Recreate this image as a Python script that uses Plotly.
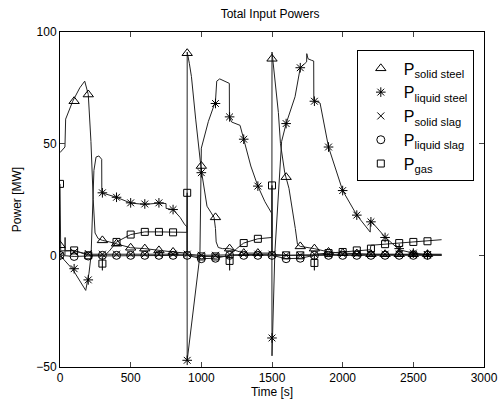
import plotly.graph_objects as go

# ---------------- data ----------------
T_MARK = list(range(0, 2700, 100))

# solid steel (triangles)
ss_t = [0, 35, 40, 90, 140, 175, 200, 219, 235, 248, 270, 300, 350, 400, 500, 600, 700, 800, 899,
        900, 915, 930, 960, 985, 1000, 1040, 1090, 1100, 1105, 1120, 1150, 1200, 1300, 1400, 1499,
        1500, 1520, 1545, 1560, 1590, 1620, 1650, 1665, 1680, 1700, 1800, 1900, 2000, 2200, 2400, 2600, 2700]
ss_y = [46, 48.5, 61, 69, 75, 78, 72, 51, 25, 10, 7.5, 6.7, 6, 5.2, 3.4, 3, 2.2, 1.5, 1,
        91, 86, 80, 61, 46, 38, 22, 17, 12, 6, 3.5, 3, 3, 1, 1, 1,
        91, 80, 64, 50, 37, 30, 19, 12, 5, 4, 3, 1.5, 1, 0.5, 0.5, 0.5, 0.5]
ss_m = [4.5, 69, 72, 6.7, 5.2, 3.4, 3, 2.2, 1.5, 90.5, 40, 17, 3, 1, 1, 88, 35, 4, 3, 1.5,
        1, 0.8, 0.5, 0.5, 0.5, 0.5, 0.5]

# liquid steel (asterisks)
ls_t = [0, 90, 182, 205, 220, 232, 240, 255, 275, 295, 296, 400, 500, 600, 700, 750, 751, 800, 850, 880, 899,
        900, 990, 1000, 1050, 1100, 1109, 1130, 1168, 1198, 1199, 1214, 1274, 1300, 1350, 1400, 1450, 1499,
        1500, 1520, 1568, 1600, 1663, 1700, 1745, 1746, 1755, 1781, 1795, 1796, 1840, 1900, 2000, 2100,
        2195, 2196, 2300, 2400, 2500, 2600, 2700]
ls_y = [0, -6.3, -15.7, -8, 0, 20, 38, 44, 44.5, 43, 28, 26, 23.4, 22.8, 23.4, 23.2, 21, 20.5, 17, 14, 12.7,
        -47, 0, 48, 60, 69, 78, 79, 78, 77, 62, 59.7, 58.2, 52, 40, 31, 24, 18.7,
        -45, 1, 51, 59, 71, 84, 86.6, 90.3, 88, 87.3, 87, 69.4, 68.2, 48.5, 29, 18,
        10.4, 15.7, 8.2, 2.5, 1, 0.3, 0]
ls_m = [0, -6, -11, 28, 26, 23.5, 23, 23.5, 20.5, -47, 37, 68, 62, 52, 31, -37, 59, 84, 69, 48.5,
        29, 18, 15, 8, 3, 1, 0.3]

# solid slag (x)
sx_t = [0, 35, 36, 37, 100, 200, 900, 1000, 1500, 1600, 2000, 2700]
sx_y = [0, 0, 8, 2, 2, 0.5, 0.5, 0, 0.5, 0, 0.5, 0.3]
sx_m = [0, 1.5, 0.8, 0.5, 0.5, 0.5, 0.5, 0.5, 0.5, 0.5, 0, 0, 0.5, 0.5, 0.5, 0.5, 0, 0, 0.5,
        0.5, 0.5, 0.5, 0.5, 0.5, 0.5, 0.3, 0.3]

# liquid slag (circles)
lq_t = [0, 100, 200, 900, 1000, 1100, 1200, 1500, 1600, 1700, 1800, 2700]
lq_y = [0, -0.5, -0.3, 0, -1.5, -1.3, 0, 0, -1.5, -1.3, 0, 0]
lq_m = [0, -0.5, -0.3, 0, 0, 0, 0, 0, 0, 0, -1.5, -1.3, 0, 0, 0, 0, -1.5, -1.3, 0, 0,
        0, 0, 0, 0, 0, 0, 0]

# gas (squares)
gs_t = [0, 5, 100, 200, 299, 300, 301, 350, 400, 500, 600, 700, 800, 899, 900, 901, 1000, 1100, 1199,
        1200, 1201, 1250, 1300, 1400, 1499, 1500, 1501, 1600, 1700, 1799, 1800, 1801, 1900, 2000, 2100,
        2195, 2200, 2300, 2400, 2500, 2600, 2700]
gs_y = [32, 2, 2.2, 0, 0, -6.7, -1, 2, 6, 9.3, 10.5, 10.5, 10.3, 10.3, 28, 0, -0.5, -0.5, -0.5,
        -6.7, 0, 3, 5.5, 7.4, 8, 31.3, 0, 0, 0, 0, -6.7, 0.5, 1, 1.5, 2.2,
        2.5, 4.5, 5, 5.5, 6, 6.3, 7]
gs_m = [32, 2.2, 0, -3.7, 6, 9.3, 10.5, 10.5, 10.3, 28, -0.5, -0.5, -2.5, 5.5, 7.4, 31.3, 0, 0,
        -3.4, 1, 1.5, 2.2, 3, 5, 5.5, 6, 6.3]

names = ["P<sub>solid steel</sub>", "P<sub>liquid steel</sub>", "P<sub>solid slag</sub>",
         "P<sub>liquid slag</sub>", "P<sub>gas</sub>"]
symbols = ["triangle-up-open", "asterisk-open", "x-thin-open", "circle-open", "square-open"]
sizes = [9, 8, 7, 8, 7]

X_TICKS = [0, 500, 1000, 1500, 2000, 2500, 3000]
Y_TICKS = [-50, 0, 50, 100]

# ---------------- figure ----------------
fig = go.Figure()
lines = [(ss_t, ss_y), (ls_t, ls_y), (sx_t, sx_y), (lq_t, lq_y), (gs_t, gs_y)]
marks = [ss_m, ls_m, sx_m, lq_m, gs_m]

for (t, y) in lines:
    fig.add_trace(go.Scatter(x=t, y=y, mode="lines", line=dict(color="#222222", width=1),
                             showlegend=False, hoverinfo="skip"))
for i, (m, name, sym, sz) in enumerate(zip(marks, names, symbols, sizes)):
    fig.add_trace(go.Scatter(x=T_MARK, y=m, mode="markers", name=name,
                             marker=dict(symbol=sym, size=sz, color="black",
                                         line=dict(color="black", width=1))))

font = "Liberation Sans, Arial, sans-serif"
fig.update_layout(
    width=501, height=401,
    margin=dict(l=60, r=17, t=32, b=34, autoexpand=False),
    paper_bgcolor="white", plot_bgcolor="white",
    font=dict(family=font, size=12, color="black"),
    title=dict(text="Total Input Powers", x=0.539, xanchor="center", y=0.965, yanchor="middle",
               font=dict(size=12)),
    legend=dict(x=0.70, y=0.945, xanchor="left", yanchor="top",
                bordercolor="black", borderwidth=1, bgcolor="white",
                font=dict(size=16), tracegroupgap=0, itemwidth=36),
)
fig.update_xaxes(range=[0, 3000], tickvals=X_TICKS, ticks="inside", ticklen=5,
                 showline=True, linecolor="black", linewidth=1, mirror="ticks",
                 showgrid=False, zeroline=False, automargin=False,
                 title=dict(text="Time [s]", standoff=2, font=dict(size=12)))
fig.update_yaxes(range=[-50, 100], tickvals=Y_TICKS, ticks="inside", ticklen=5,
                 showline=True, linecolor="black", linewidth=1, mirror="ticks",
                 showgrid=False, zeroline=False, automargin=False,
                 title=dict(text="Power [MW]", standoff=12, font=dict(size=12)))

fig.write_html("out.html")
